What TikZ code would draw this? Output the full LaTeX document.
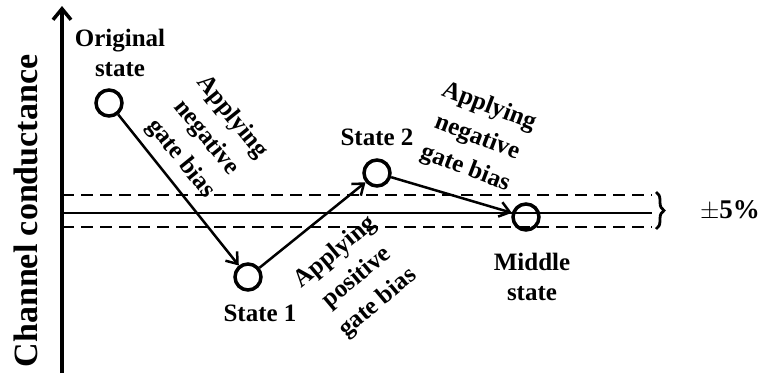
\documentclass[tikz,border=0pt]{standalone}
\usepackage{fontspec}
\setmainfont{Liberation Serif}
\usetikzlibrary{arrows.meta,decorations.pathreplacing}
\begin{document}
\begin{tikzpicture}[x=1pt,y=-1pt,
  lbl/.style={font=\bfseries\fontsize{25}{30}\selectfont,align=center,inner sep=0pt},
  rlbl/.style={font=\bfseries\fontsize{25}{33}\selectfont,align=center,inner sep=0pt},
  state/.style={circle,draw,line width=3.5pt,minimum size=26pt,inner sep=0pt},
  trans/.style={line width=2.5pt,-{Straight Barb[length=10pt,width=15pt,line width=2.5pt]}},
  dsh/.style={line width=2.8pt,dash pattern=on 12pt off 7pt}]
\useasboundingbox (0,0) rectangle (766,381);
% axis
\coordinate (ab) at (62,373);
\coordinate (at) at (62,6);
\draw[line width=3.5pt,-{Straight Barb[length=11pt,width=18pt,line width=3.5pt]}] (ab) -- (at);
\node[font=\bfseries\fontsize{34}{40}\selectfont,rotate=90,inner sep=0pt] (ylab) at (26,211) {Channel conductance};
% reference lines
\coordinate (l0) at (62,213);
\coordinate (r0) at (652,213);
\coordinate (l1) at (62,195);
\coordinate (r1) at (652,195);
\coordinate (l2) at (62,227);
\coordinate (r2) at (652,227);
\draw[line width=2.8pt] (l0) -- (r0);
\draw[dsh] (l1) -- (r1);
\draw[dsh] (l2) -- (r2);
\coordinate (bt) at (656,192);
\coordinate (bb) at (656,229);
\draw[line width=2.8pt,decorate,decoration={brace,amplitude=8pt}] (bt) -- (bb);
\node[font=\fontsize{27}{30}\selectfont,inner sep=0pt] (pct) at (730,211) {$\pm$\textbf{5\%}};
% states
\node[state] (o) at (109,103) {};
\node[state] (s1) at (248,277) {};
\node[state] (s2) at (377,173) {};
\node[state] (m) at (526,217) {};
\draw[trans] (o) -- (s1);
\draw[trans] (s1) -- (s2);
\draw[trans] (s2) -- (m);
% labels
\node[lbl] (to) at (120,53) {Original\\state};
\node[lbl] (t1) at (260,313) {State 1};
\node[lbl] (t2) at (377,137) {State 2};
\node[lbl] (tm) at (532,277) {Middle\\state};
\node[rlbl,rotate=-51] (n1) at (206,138) {Applying\\negative\\gate bias};
\node[rlbl,rotate=40] (p1) at (357,278) {Applying\\positive\\gate bias};
\node[rlbl,rotate=-21] (n2) at (477,138) {Applying\\negative\\gate bias};
\end{tikzpicture}
\end{document}
